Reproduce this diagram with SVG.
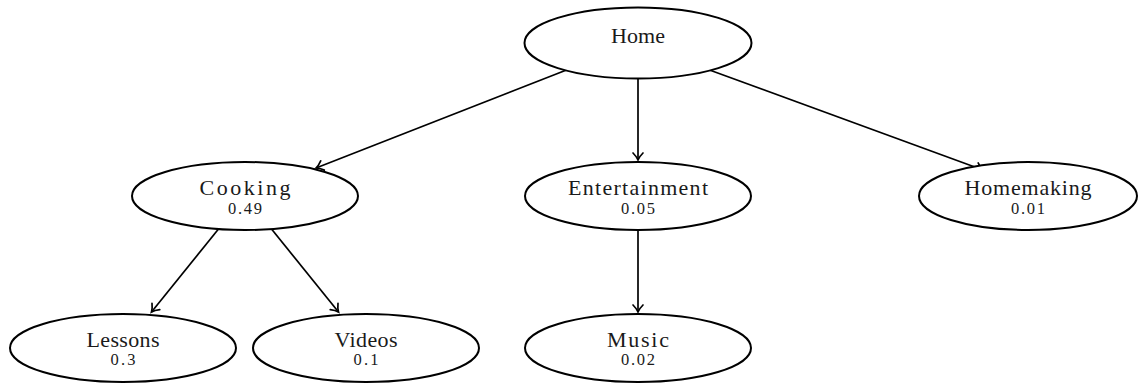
<svg xmlns="http://www.w3.org/2000/svg" width="1138" height="383" viewBox="0 0 1138 383">
  <style>
    .node ellipse { fill: #ffffff; stroke: #000000; stroke-width: 2; }
    .name { font-family: "Liberation Serif", "DejaVu Serif", serif; font-size: 22px; fill: #1a1a1a; text-anchor: middle; }
    .val { font-family: "Liberation Serif", "DejaVu Serif", serif; font-size: 16.5px; fill: #1a1a1a; text-anchor: middle; }
    .edge { fill: none; stroke: #000000; stroke-width: 1.7; marker-end: url(#to); }
  </style>
  <defs>
    <marker id="to" markerUnits="userSpaceOnUse" markerWidth="14" markerHeight="14" refX="0" refY="0" viewBox="-9 -7 11 14" orient="auto" overflow="visible">
      <path d="M -7 -5 C -4 -2 -1.5 -0.6 0 0 C -1.5 0.6 -4 2 -7 5" fill="none" stroke="#000000" stroke-width="1.7" stroke-linecap="round"/>
    </marker>
  </defs>
  <rect width="1138" height="383" fill="#ffffff"/>

  <!-- connectors -->
  <g id="edges">
    <path class="edge" d="M 566.5 70 L 316 168"/>
    <path class="edge" d="M 638 78 L 638 160"/>
    <path class="edge" d="M 709.5 70 L 983 170"/>
    <path class="edge" d="M 218.5 229 L 151.5 312"/>
    <path class="edge" d="M 271.5 229 L 338.5 312"/>
    <path class="edge" d="M 638 230 L 638 312"/>
  </g>

  <!-- nodes -->
  <g id="home" class="node">
    <ellipse cx="638" cy="43" rx="113.5" ry="35.5"/>
    <text class="name" x="638" y="43" textLength="54">Home</text>
  </g>
  <g id="cooking" class="node">
    <ellipse cx="245" cy="196" rx="113" ry="34"/>
    <text class="name" x="245" y="195" textLength="91">Cooking</text>
    <text class="val" x="245" y="214" textLength="34">0.49</text>
  </g>
  <g id="entertainment" class="node">
    <ellipse cx="638" cy="196" rx="113" ry="34"/>
    <text class="name" x="638" y="195" textLength="140">Entertainment</text>
    <text class="val" x="638" y="214" textLength="34">0.05</text>
  </g>
  <g id="homemaking" class="node">
    <ellipse cx="1028" cy="196" rx="109" ry="34"/>
    <text class="name" x="1028" y="195" textLength="127">Homemaking</text>
    <text class="val" x="1028" y="214" textLength="34">0.01</text>
  </g>
  <g id="lessons" class="node">
    <ellipse cx="123" cy="348" rx="113" ry="34"/>
    <text class="name" x="123" y="347" textLength="73">Lessons</text>
    <text class="val" x="123" y="365" textLength="25">0.3</text>
  </g>
  <g id="videos" class="node">
    <ellipse cx="366" cy="348" rx="113" ry="34"/>
    <text class="name" x="366" y="347" textLength="63">Videos</text>
    <text class="val" x="366" y="365" textLength="25">0.1</text>
  </g>
  <g id="music" class="node">
    <ellipse cx="638" cy="348" rx="113" ry="34"/>
    <text class="name" x="638" y="347" textLength="62">Music</text>
    <text class="val" x="638" y="365" textLength="34">0.02</text>
  </g>
</svg>
